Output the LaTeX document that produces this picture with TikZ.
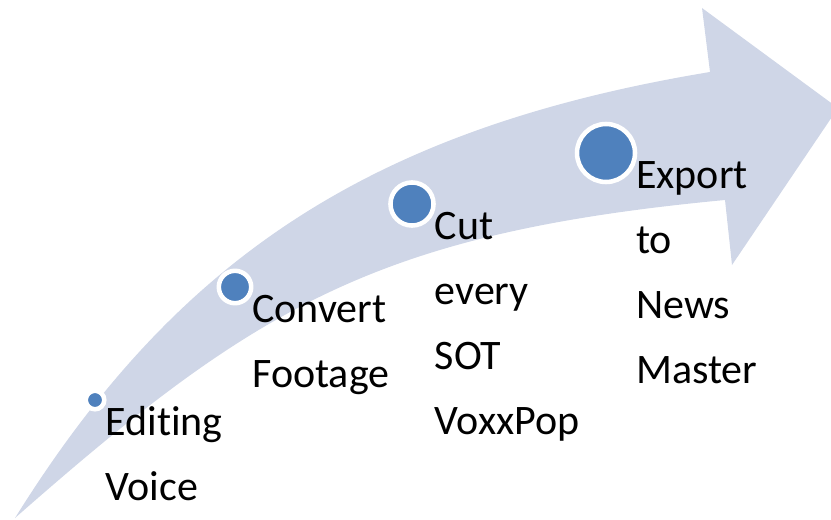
\documentclass[tikz,border=0pt]{standalone}
\usepackage{fontspec}
\setmainfont[Ligatures=NoCommon]{Carlito}
\definecolor{bandblue}{RGB}{207,214,231}
\definecolor{dotblue}{RGB}{79,129,189}
\tikzset{
  stepdot/.style={circle,fill=dotblue,draw=white,line width=3.4pt,inner sep=0pt},
  steplabel/.style={anchor=base west,align=left,inner sep=0pt,xshift=-1pt,
    font=\fontsize{31.5pt}{48.75pt}\selectfont}
}
\begin{document}
\begin{tikzpicture}[x=0.75pt,y=-0.75pt]
  \clip (0,0) rectangle (831,520);
  % curved band with arrow head
  \fill[bandblue] (15,518) .. controls (174,263) and (365,129) .. (710,72)
    -- (702,8) -- (838,108) -- (732,265) -- (725,200)
    .. controls (376,233) and (255,307) .. (15,518) -- cycle;
  \foreach \n/\x/\y/\d in
    {1/95/400/13.9, 2/235/287/24.3, 3/412/204/32.3, 4/606/153/43.5}
    \node[stepdot,minimum size=\d pt] (dot\n) at (\x,\y) {};
  % base is the last line: shift down by the lines above it
  \node[steplabel] (lab1) at ([yshift=-75pt]dot1.east) {Editing\\Voice};
  \node[steplabel] (lab2) at ([yshift=-75pt]dot2.east) {Convert\\Footage};
  \node[steplabel] (lab3) at ([yshift=-172.5pt]dot3.east) {Cut\\every\\SOT\\VoxxPop};
  \node[steplabel] (lab4) at ([yshift=-172.5pt]dot4.east) {Export\\to\\News\\Master};
\end{tikzpicture}
\end{document}
